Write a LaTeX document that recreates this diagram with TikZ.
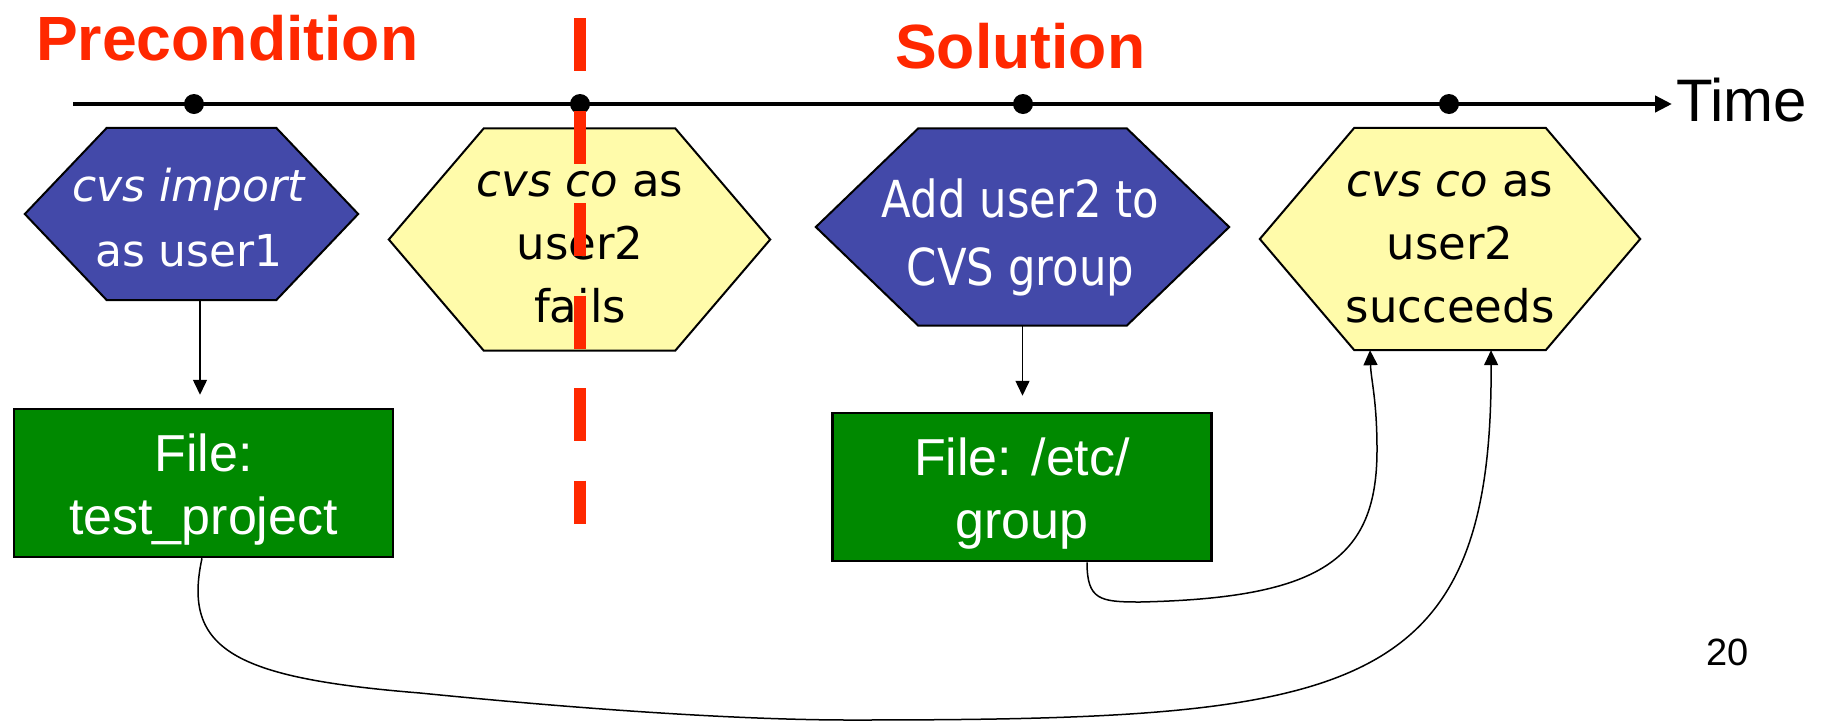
\documentclass[tikz,border=0pt]{standalone}
\usepackage{fontspec}
\setmainfont{Liberation Sans}
\newfontfamily\hexfont{DejaVu Sans}
\newfontfamily\hexnarrow[FakeStretch=0.85]{DejaVu Sans}
\usetikzlibrary{arrows.meta}

\definecolor{cvsblue}{RGB}{67,73,169}
\definecolor{cvsyellow}{RGB}{255,251,170}
\definecolor{filegreen}{RGB}{0,137,0}
\definecolor{phasered}{RGB}{255,40,0}

\tikzset{
	phase/.style={anchor=base west,inner sep=0,text=phasered,font=\bfseries\fontsize{62.5}{75}\selectfont},
	timeline/.style={line width=4.5,-{Triangle[length=17pt,width=16pt]}},
	tdot/.style={circle,fill=black,inner sep=0,minimum size=20},
	hexbox/.style={rectangle,inner sep=0},
	hexline/.style={draw=black,line width=2},
	hextext/.style={align=center,inner sep=0},
	filebox/.style={rectangle,draw=black,line width=2.5,fill=filegreen,text=white,align=center,inner sep=0,minimum width=379,minimum height=148,font=\fontsize{52}{63}\selectfont},
	conn/.style={line width=1.5,-{Triangle[length=15pt,width=14pt]}},
	divider/.style={draw=phasered,line width=11.5,dash pattern=on 53pt off 39.5pt}
}

\newcommand{\drawhex}[3]{\filldraw[hexline,fill=#3] (#1.north west) -- (#1.north east) -- ([xshift=#2]#1.east) -- (#1.south east) -- (#1.south west) -- ([xshift=-#2]#1.west) -- cycle;}
\newcommand{\topgap}{\rule{0pt}{51pt}}

\begin{document}
\begin{tikzpicture}[x=1pt,y=-1pt]
	\path[use as bounding box,fill=white] (0,0) rectangle (1833,721);
	
	\node[phase] (pre) at (36,60) {Precondition};
	\node[phase] (sol) at (895,68) {Solution};
	
	\coordinate (tstart) at (73,104);
	\coordinate (tend) at (1672,104);
	\draw[timeline] (tstart) -- (tend);
	\node[tdot] (d1) at (194,104) {};
	\node[tdot] (d2) at (580,104) {};
	\node[tdot] (d3) at (1023,104) {};
	\node[tdot] (d4) at (1449,104) {};
	\node[anchor=base west,inner sep=0,font=\fontsize{60}{72}\selectfont] (time) at (1676,121) {Time};
	
	\node[hexbox,minimum width=169,minimum height=172] (imphex) at (191.5,214) {};
	\drawhex{imphex}{82}{cvsblue}
	\node[hextext,text=white,font=\hexfont\fontsize{44}{65}\selectfont] (imptxt) at (189,217.8) {\textit{cvs import}\\as user1};
	
	\node[hexbox,minimum width=191,minimum height=222] (failhex) at (579.5,239.5) {};
	\drawhex{failhex}{95}{cvsyellow}
	\node[hextext,font=\hexfont\fontsize{45}{63}\selectfont] (failtxt) at (580,247.4) {\textit{cvs co} as\\user2\\fails};
	
	\node[hexbox,minimum width=208,minimum height=197] (addhex) at (1022.5,227) {};
	\drawhex{addhex}{102.5}{cvsblue}
	\node[hextext,text=white,font=\hexnarrow\fontsize{51}{68}\selectfont] (addtxt) at (1020.5,237.6) {Add user2 to\\CVS group};
	
	\node[hexbox,minimum width=191,minimum height=222] (succhex) at (1450,239) {};
	\drawhex{succhex}{94.5}{cvsyellow}
	\node[hextext,font=\hexfont\fontsize{45}{63}\selectfont] (succtxt) at (1450,247) {\textit{cvs co} as\\user2\\succeeds};
	
	\node[filebox] (projfile) at (203.5,483) {\topgap File:\\test\_project};
	\node[filebox] (grpfile) at (1022,487) {\topgap File: /etc/\\group};
	
	\coordinate (impout) at ([xshift=8.5]imphex.south);
	\draw[conn,shorten >=13pt] (impout) -- (impout |- projfile.north);
	\draw[conn,shorten >=16pt] (addhex.south) -- (addhex.south |- grpfile.north);
	
	\draw[conn] ([xshift=65]grpfile.south) .. controls (1087,600) and (1100,602) .. (1140,602) .. controls (1320,598) and (1377,560) .. (1377,450) .. controls (1377,400) and (1371,380) .. ([xshift=-80]succhex.south);
	\draw[conn] ([xshift=-1.5]projfile.south) .. controls (182,650) and (235,678) .. (420,693) .. controls (600,711) and (750,720) .. (850,720) .. controls (1350,720) and (1493,700) .. ([xshift=41]succhex.south);
	
	\draw[divider] (580,18) -- (580,524);
	
	\node[anchor=base west,inner sep=0,font=\fontsize{38}{40}\selectfont] (pagenum) at (1706,665) {20};
\end{tikzpicture}
\end{document}
